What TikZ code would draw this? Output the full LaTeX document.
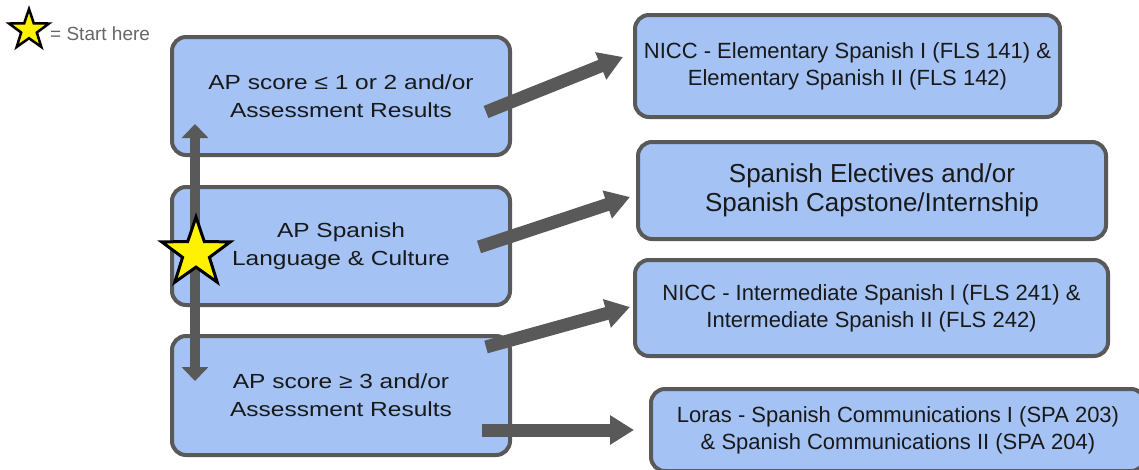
\documentclass[tikz,border=0pt]{standalone}
\usepackage{fontspec}
\setmainfont{Liberation Sans}
\newfontfamily\widefont[FakeStretch=1.2]{Liberation Sans}
\usetikzlibrary{arrows.meta,shapes.geometric}
\definecolor{boxblue}{HTML}{A4C2F4}
\definecolor{edgegray}{HTML}{595959}
\definecolor{notegray}{HTML}{666666}
\tikzset{
  stepbox/.style={draw=edgegray, line width=4pt, rounded corners=14pt, fill=boxblue,
    align=center, inner sep=0pt, text=black!90},
  leftbox/.style={stepbox, minimum width=338pt, minimum height=118pt,
    font=\widefont\fontsize{20.4}{28}\selectfont},
  rightbox/.style={stepbox, font=\fontsize{22}{27}\selectfont},
  bigarrow/.style={draw=edgegray, line width=13pt, -{Triangle[width=28pt,length=24pt]}},
  vertarrow/.style={draw=edgegray, line width=10pt, {Triangle[width=26pt,length=14pt]}-{Triangle[width=26pt,length=14pt]}},
  startstar/.style={star, star points=5, star point ratio=2.55, draw=black, line width=3pt,
    fill=yellow, inner sep=0pt}
}

\begin{document}
\begin{tikzpicture}[x=1pt,y=-1pt]
				%%%%% START %%%%%
				\useasboundingbox (0,0) rectangle (1139,469);
				
				% legend
				\node[startstar, minimum size=42pt, line width=2.5pt] (key) at (29,30) {};
				\node[anchor=base west, text=notegray, font=\fontsize{19}{22}\selectfont, inner sep=0pt] (keytext) at (50,40) {= Start here};
				
				% left column
				\node[leftbox] (low) at (341,96) {AP score ≤ 1 or 2 and/or\\Assessment Results};
				\node[leftbox] (apsl) at (341,246) {AP Spanish\\Language \& Culture};
				\node[leftbox, minimum height=119pt] (high) at (341,395.5) {AP score ≥ 3 and/or\\Assessment Results};
				
				% right column
				\node[rightbox, minimum width=425pt, minimum height=102pt] (elem) at (847.5,66) {NICC - Elementary Spanish I (FLS 141) \&\\Elementary Spanish II (FLS 142)};
				\node[rightbox, minimum width=468pt, minimum height=97pt, font=\fontsize{26}{29}\selectfont] (elect) at (872,190.5) {Spanish Electives and/or\\Spanish Capstone/Internship};
				\node[rightbox, minimum width=473pt, minimum height=96pt] (inter) at (871.5,308) {NICC - Intermediate Spanish I (FLS 241) \&\\Intermediate Spanish II (FLS 242)};
				\node[rightbox, minimum width=494pt, minimum height=82pt] (loras) at (898,430) {Loras - Spanish Communications I (SPA 203)\\\& Spanish Communications II (SPA 204)};
				
				% arrows
				\draw[bigarrow] ([shift={(-26,16)}]low.east) -- ([shift={(-10,-9)}]elem.west);
				\draw[bigarrow] ([shift={(-33,1)}]apsl.east) -- ([shift={(-6,6.5)}]elect.west);
				\draw[bigarrow] ([shift={(-26,13)}]high.north east) -- ([shift={(-3,-1)}]inter.west);
				\draw[bigarrow] ([shift={(-30,34.5)}]high.east) -- ([shift={(-15,0)}]loras.west);
				\draw[vertarrow] ([shift={(25,47)}]high.north west) -- ([shift={(25,-33)}]low.south west);
				
				\node[startstar, minimum size=72pt] (start) at (196,253) {};
				%%%%% END %%%%%
\end{tikzpicture}
\end{document}
